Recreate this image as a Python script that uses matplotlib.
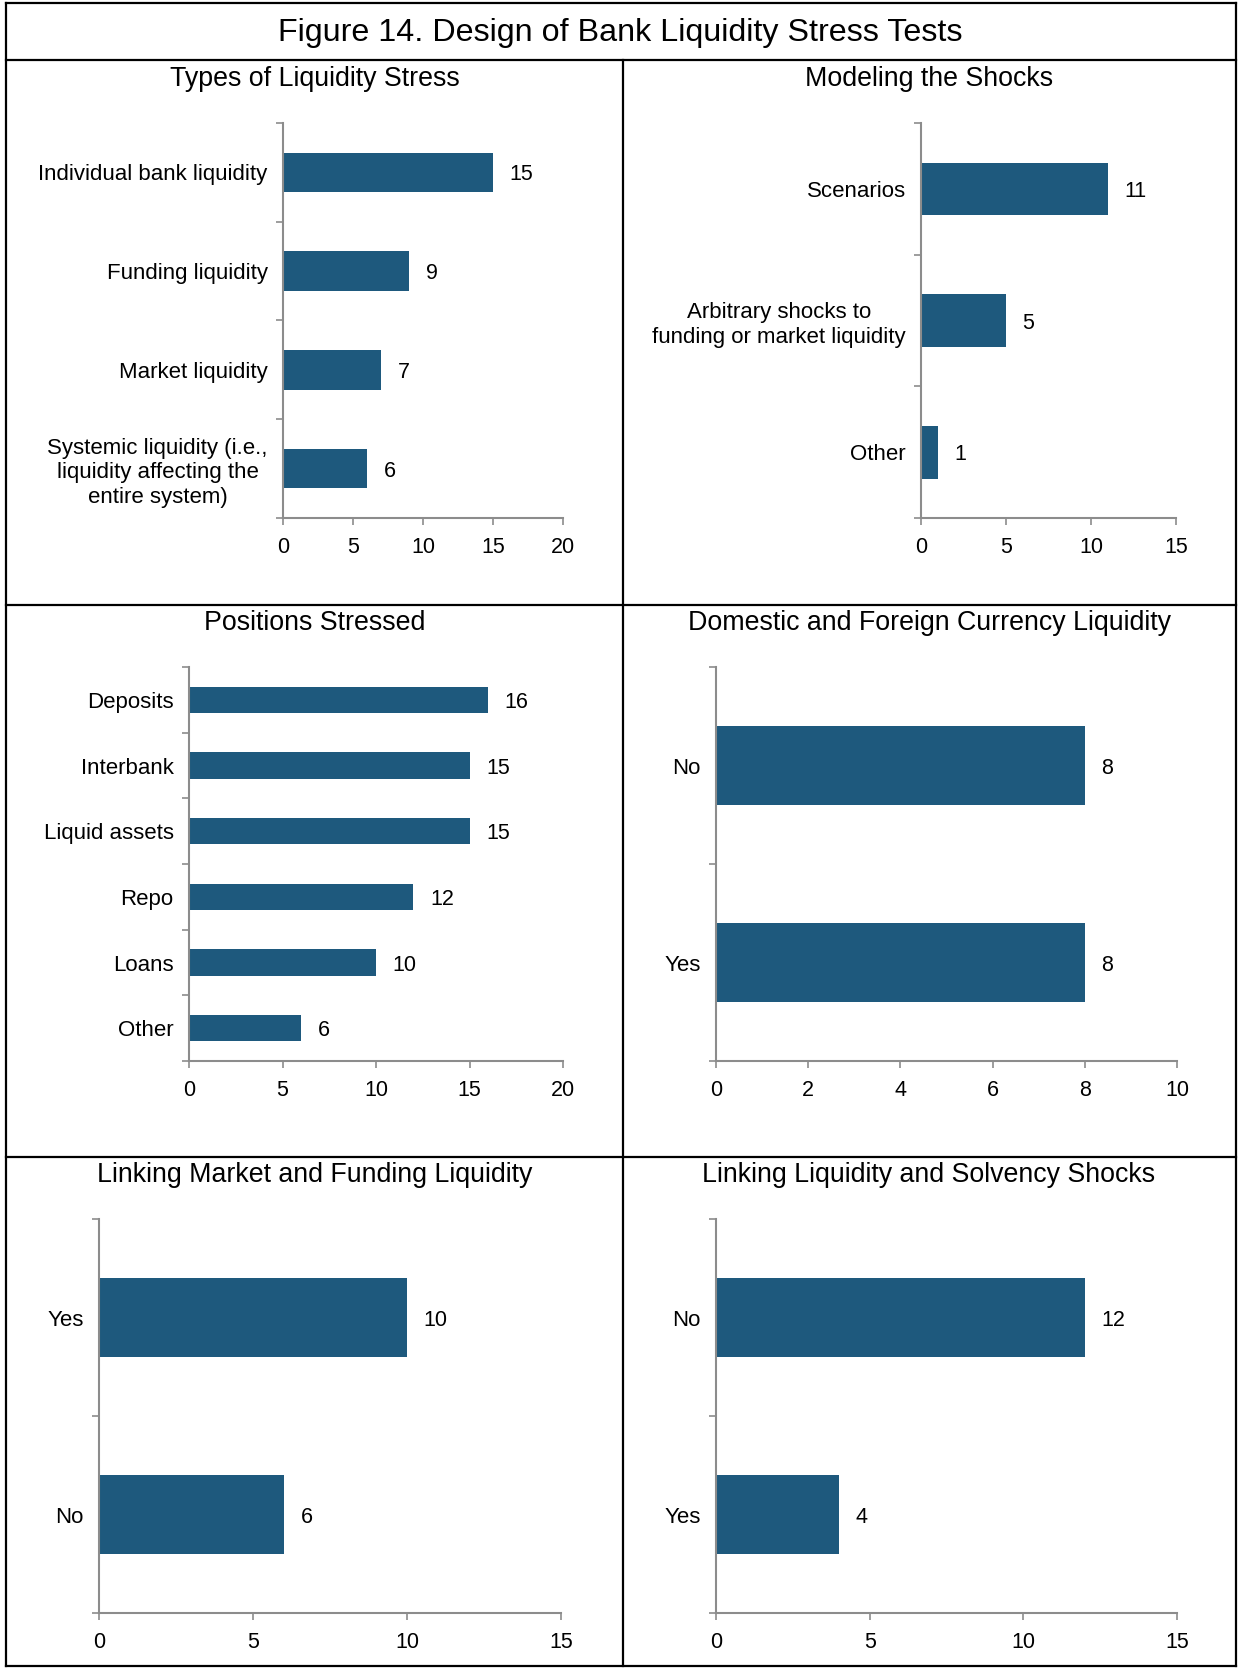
import matplotlib.pyplot as plt
import numpy as np
from matplotlib.lines import Line2D

plt.rcParams['font.family'] = ['Liberation Sans', 'DejaVu Sans']

W, H = 1239, 1669
BAR = '#1E597D'
AXC = '#8C8C8C'

# data, top to bottom
stress_cats = ['Individual bank liquidity', 'Funding liquidity', 'Market liquidity',
               'Systemic liquidity (i.e.,\nliquidity affecting the\nentire system)']
stress_vals = [15, 9, 7, 6]

shock_cats = ['Scenarios', 'Arbitrary shocks to\nfunding or market liquidity', 'Other']
shock_vals = [11, 5, 1]

pos_cats = ['Deposits', 'Interbank', 'Liquid assets', 'Repo', 'Loans', 'Other']
pos_vals = [16, 15, 15, 12, 10, 6]

curr_cats = ['No', 'Yes']
curr_vals = [8, 8]

mkt_cats = ['Yes', 'No']
mkt_vals = [10, 6]

solv_cats = ['No', 'Yes']
solv_vals = [12, 4]

panels = [
    ('Types of Liquidity Stress', stress_cats, stress_vals, (283, 123, 563, 518), 20, 5),
    ('Modeling the Shocks', shock_cats, shock_vals, (921, 123, 1176, 518), 15, 5),
    ('Positions Stressed', pos_cats, pos_vals, (189, 667, 563, 1061), 20, 5),
    ('Domestic and Foreign Currency Liquidity', curr_cats, curr_vals, (716, 667, 1177, 1061), 10, 2),
    ('Linking Market and Funding Liquidity', mkt_cats, mkt_vals, (99, 1219, 561, 1613), 15, 5),
    ('Linking Liquidity and Solvency Shocks', solv_cats, solv_vals, (716, 1219, 1177, 1613), 15, 5),
]
title_pos = [(315, 79), (929, 79), (315, 623), (929, 623), (315, 1175), (929, 1175)]

fig = plt.figure(figsize=(W / 100, H / 100), dpi=100)


def fx(x):
    return x / W


def fy(y):
    return 1 - y / H


for (title, cats, vals, box, xmax, step), (tx, ty) in zip(panels, title_pos):
    x0, y0, x1, y1 = box
    ax = fig.add_axes([fx(x0), fy(y1), fx(x1 - x0), (y1 - y0) / H])
    n = len(cats)
    ypos = np.arange(n)
    ax.barh(ypos, vals, height=0.4, color=BAR)
    for y, v in zip(ypos, vals):
        ax.annotate(str(v), (v, y), xytext=(12, 0), textcoords='offset points',
                    va='center_baseline', ha='left', fontsize=15.5)
    ax.set_ylim(n - 0.5, -0.5)
    ax.set_xlim(0, xmax)
    ax.set_xticks(np.arange(0, xmax + 1, step))
    ax.set_yticks(ypos)
    ax.set_yticklabels(cats)
    for lab in ax.get_yticklabels():
        lab.set_multialignment('center')
        lab.set_linespacing(1.22)
    ax.set_yticks(np.arange(-0.5, n, 1), minor=True)
    ax.tick_params(axis='y', which='major', length=0, pad=11, labelsize=16)
    ax.tick_params(axis='y', which='minor', length=5, color=AXC, width=1.2)
    ax.tick_params(axis='x', length=5, color=AXC, width=1.2, pad=9, labelsize=15.5)
    for s in ['top', 'right']:
        ax.spines[s].set_visible(False)
    for s in ['left', 'bottom']:
        ax.spines[s].set_color(AXC)
        ax.spines[s].set_linewidth(1.5)
    fig.text(fx(tx), fy(ty), title, ha='center', va='center', fontsize=19.3)

fig.text(fx(620), fy(33), 'Figure 14. Design of Bank Liquidity Stress Tests',
         ha='center', va='center', fontsize=23.2)

# frame lines
lines = [
    ((6, 1236), (3, 3)), ((6, 1236), (1666, 1666)),
    ((6, 6), (3, 1666)), ((1236, 1236), (3, 1666)),
    ((6, 1236), (60, 60)), ((6, 1236), (605, 605)), ((6, 1236), (1157, 1157)),
    ((623, 623), (60, 1666)),
]
for xs, ys in lines:
    fig.add_artist(Line2D([fx(xs[0]), fx(xs[1])], [fy(ys[0]), fy(ys[1])],
                          color='black', linewidth=1.6, transform=fig.transFigure))

fig.savefig('out.png', dpi=100)
